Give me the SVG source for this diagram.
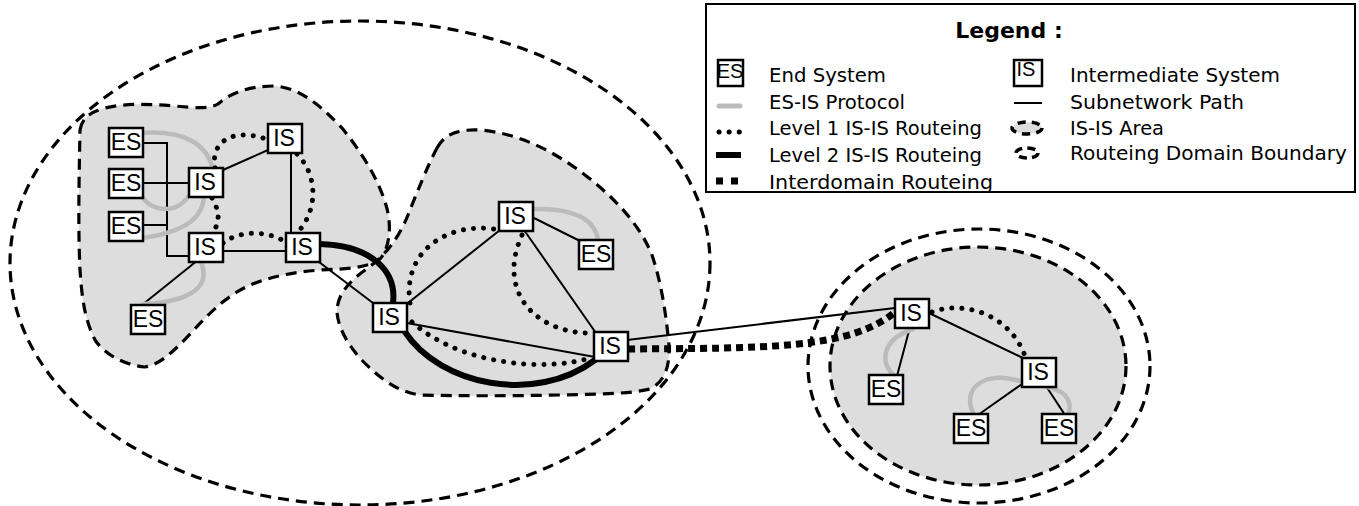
<svg xmlns="http://www.w3.org/2000/svg" width="1359" height="506" viewBox="0 0 1359 506">
<style>
.bnd{fill:none;stroke:#000;stroke-width:3.2;stroke-dasharray:11 7}
.area{fill:#dddddd;stroke:none}
.sub{fill:none;stroke:#000;stroke-width:2}
.esis{fill:none;stroke:#bbbbbb;stroke-width:4.5;stroke-linecap:round}
.l1{fill:none;stroke:#000;stroke-width:5;stroke-linecap:round;stroke-dasharray:0.1 10}
.l2{fill:none;stroke:#000;stroke-width:6;stroke-linecap:round}
.idr{fill:none;stroke:#000;stroke-width:7;stroke-dasharray:7 5}
.box{fill:#fff;stroke:#000;stroke-width:2.5}
.nt{font-family:"Liberation Sans",Arial,sans-serif;font-size:23px;fill:#000;text-anchor:middle}
.lt{font-family:"DejaVu Sans","Liberation Sans",sans-serif;font-size:19px;fill:#000}
</style>
<rect width="1359" height="506" fill="#fff"/>

<g id="areas">
<path id="area-left" class="area" d="M80,130 C82,118 90,112 105,108 C125,103 150,104 175,106 C195,108 210,109 218,104 C232,92 250,86 275,86 C300,88 320,105 342,128 C360,150 378,178 386,205 C392,225 390,248 380,259 C368,268 345,269 320,270 C295,272 272,276 250,285 C228,295 210,312 192,332 C175,350 160,365 145,367 C125,365 105,355 95,340 C85,320 82,300 80,270 C78,230 79,180 80,130 Z"/>
<path id="area-right" class="area" d="M437,148 C445,133 460,129 480,130 C515,133 550,148 585,175 C615,198 640,225 652,255 C662,285 666,315 669,345 C670,368 664,382 650,389 C630,394 600,394 560,395 C510,396 460,396 420,395 C400,392 385,382 370,368 C352,352 338,330 337,312 C337,295 348,282 368,268 C385,255 398,240 408,215 C418,190 428,165 437,148 Z"/>
<ellipse id="area-r2" class="area" cx="978" cy="366" rx="148" ry="119"/>
</g>

<g id="boundaries">
<ellipse class="bnd" cx="360" cy="263" rx="350" ry="242"/>
<ellipse class="bnd" cx="979" cy="366" rx="171" ry="137"/>
<path class="bnd" d="M80,130 C82,118 90,112 105,108 C125,103 150,104 175,106 C195,108 210,109 218,104 C232,92 250,86 275,86 C300,88 320,105 342,128 C360,150 378,178 386,205 C392,225 390,248 380,259 C368,268 345,269 320,270 C295,272 272,276 250,285 C228,295 210,312 192,332 C175,350 160,365 145,367 C125,365 105,355 95,340 C85,320 82,300 80,270 C78,230 79,180 80,130 Z"/>
<path class="bnd" d="M437,148 C445,133 460,129 480,130 C515,133 550,148 585,175 C615,198 640,225 652,255 C662,285 666,315 669,345 C670,368 664,382 650,389 C630,394 600,394 560,395 C510,396 460,396 420,395 C400,392 385,382 370,368 C352,352 338,330 337,312 C337,295 348,282 368,268 C385,255 398,240 408,215 C418,190 428,165 437,148 Z"/>
<ellipse class="bnd" cx="978" cy="366" rx="148" ry="119"/>
</g>

<g id="connectors">
<path class="sub" d="M143,143 H167 V256 H189 M143,183 H189 M143,225 H167"/>
<path class="sub" d="M223,170 L268,150"/>
<path class="sub" d="M291,153 V233"/>
<path class="sub" d="M223,251 H286"/>
<path class="sub" d="M198,260 L142,305"/>
<path class="sub" d="M319,262 L373,303"/>
<path class="sub" d="M408,303 L500,230"/>
<path class="sub" d="M534,218 L580,241"/>
<path class="sub" d="M524,230 L596,333"/>
<path class="sub" d="M407,323 L595,357"/>
<path class="sub" d="M627,340 L895,308"/>
<path class="sub" d="M910,327 L897,376"/>
<path class="sub" d="M929,313 L1023,358"/>
<path class="sub" d="M1022,384 L978,415"/>
<path class="sub" d="M1046,386 L1065,415"/>
<path class="esis" d="M142,133 C185,130 208,145 213,170"/>
<path class="esis" d="M142,196 C150,212 178,215 190,194"/>
<path class="esis" d="M142,238 C185,232 205,218 204,192"/>
<path class="esis" d="M200,260 C215,292 180,302 143,304"/>
<path class="esis" d="M534,209 C575,208 595,220 598,240"/>
<path class="esis" d="M913,329 C880,340 880,365 895,376"/>
<path class="esis" d="M1020,381 C985,370 960,388 974,415"/>
<path class="esis" d="M1048,387 C1070,392 1072,405 1068,415"/>
<path class="l1" d="M215,168 C210,140 235,128 266,139"/>
<path class="l1" d="M297,154 C318,175 318,210 298,232"/>
<path class="l1" d="M212,198 C220,212 220,222 213,232"/>
<path class="l1" d="M223,243 C240,230 268,230 287,243"/>
<path class="l1" d="M410,303 C402,250 450,220 500,230"/>
<path class="l1" d="M522,235 C495,295 540,335 594,333"/>
<path class="l1" d="M412,322 C460,365 545,372 590,358"/>
<path class="l1" d="M932,312 C965,300 1010,315 1025,356"/>
<path class="l2" d="M319,244 C370,245 397,270 393,303"/>
<path class="l2" d="M405,332 C440,385 535,405 595,360"/>
<path class="idr" d="M628,349 C760,348 850,350 895,312"/>
</g>

<g id="nodes">
<g id="es1"><rect class="box" x="109" y="128" width="34" height="29"/><text class="nt" x="126" y="150">ES</text></g>
<g id="es2"><rect class="box" x="109" y="169" width="34" height="29"/><text class="nt" x="126" y="191">ES</text></g>
<g id="es3"><rect class="box" x="109" y="212" width="34" height="29"/><text class="nt" x="126" y="234">ES</text></g>
<g id="isA"><rect class="box" x="189" y="168" width="34" height="29"/><text class="nt" x="205" y="190">IS</text></g>
<g id="isT"><rect class="box" x="268" y="124" width="34" height="29"/><text class="nt" x="284" y="146">IS</text></g>
<g id="isB"><rect class="box" x="189" y="233" width="34" height="29"/><text class="nt" x="205" y="255">IS</text></g>
<g id="isC"><rect class="box" x="286" y="233" width="34" height="29"/><text class="nt" x="302" y="255">IS</text></g>
<g id="es4"><rect class="box" x="131" y="305" width="34" height="29"/><text class="nt" x="148" y="327">ES</text></g>
<g id="isD"><rect class="box" x="373" y="303" width="34" height="29"/><text class="nt" x="389" y="325">IS</text></g>
<g id="isE"><rect class="box" x="499" y="202" width="34" height="29"/><text class="nt" x="515" y="224">IS</text></g>
<g id="es5"><rect class="box" x="579" y="240" width="34" height="29"/><text class="nt" x="596" y="262">ES</text></g>
<g id="isF"><rect class="box" x="594" y="332" width="34" height="29"/><text class="nt" x="610" y="354">IS</text></g>
<g id="isG"><rect class="box" x="895" y="299" width="34" height="29"/><text class="nt" x="911" y="321">IS</text></g>
<g id="es6"><rect class="box" x="869" y="375" width="34" height="29"/><text class="nt" x="886" y="397">ES</text></g>
<g id="isH"><rect class="box" x="1022" y="358" width="34" height="29"/><text class="nt" x="1038" y="380">IS</text></g>
<g id="es7"><rect class="box" x="954" y="414" width="34" height="29"/><text class="nt" x="971" y="436">ES</text></g>
<g id="es8"><rect class="box" x="1042" y="414" width="34" height="29"/><text class="nt" x="1059" y="436">ES</text></g>
</g>

<g id="legend">
<rect x="706" y="4" width="649" height="188" fill="#fff" stroke="#000" stroke-width="2"/>
<text x="1009" y="38" font-family="DejaVu Sans,Liberation Sans,sans-serif" font-size="22" font-weight="bold" text-anchor="middle">Legend :</text>
<rect x="718" y="60" width="25" height="26" fill="#fff" stroke="#000" stroke-width="2.5"/>
<text x="730" y="78" font-family="Liberation Sans,Arial,sans-serif" font-size="20" text-anchor="middle">ES</text>
<text class="lt" x="769" y="82" textLength="117" lengthAdjust="spacingAndGlyphs">End System</text>
<line x1="719" y1="106" x2="740" y2="106" stroke="#bbb" stroke-width="5" stroke-linecap="round"/>
<text class="lt" x="769" y="109" textLength="136" lengthAdjust="spacingAndGlyphs">ES-IS Protocol</text>
<line x1="719" y1="132" x2="741" y2="132" class="l1" stroke-dasharray="0.1 10.5"/>
<text class="lt" x="769" y="135" textLength="213" lengthAdjust="spacingAndGlyphs">Level 1 IS-IS Routeing</text>
<line x1="716" y1="155" x2="741" y2="155" stroke="#000" stroke-width="6"/>
<text class="lt" x="769" y="162" textLength="213" lengthAdjust="spacingAndGlyphs">Level 2 IS-IS Routeing</text>
<line x1="716" y1="181" x2="741" y2="181" stroke="#000" stroke-width="7" stroke-dasharray="7 8"/>
<text class="lt" x="769" y="189" textLength="224" lengthAdjust="spacingAndGlyphs">Interdomain Routeing</text>
<rect x="1014" y="60" width="28" height="26" fill="#fff" stroke="#000" stroke-width="2.5"/>
<text x="1026" y="76" font-family="Liberation Sans,Arial,sans-serif" font-size="20" text-anchor="middle">IS</text>
<text class="lt" x="1070" y="82" textLength="210" lengthAdjust="spacingAndGlyphs">Intermediate System</text>
<line x1="1014" y1="103" x2="1042" y2="103" stroke="#000" stroke-width="2"/>
<text class="lt" x="1070" y="109" textLength="174" lengthAdjust="spacingAndGlyphs">Subnetwork Path</text>
<ellipse cx="1027" cy="128" rx="15" ry="6" fill="#dddddd" stroke="#000" stroke-width="3.5" stroke-dasharray="8 6"/>
<text class="lt" x="1070" y="135" textLength="94" lengthAdjust="spacingAndGlyphs">IS-IS Area</text>
<ellipse cx="1027" cy="153" rx="11" ry="5" fill="none" stroke="#000" stroke-width="3.5" stroke-dasharray="8 5"/>
<text class="lt" x="1070" y="160" textLength="277" lengthAdjust="spacingAndGlyphs">Routeing Domain Boundary</text>
</g>
</svg>
